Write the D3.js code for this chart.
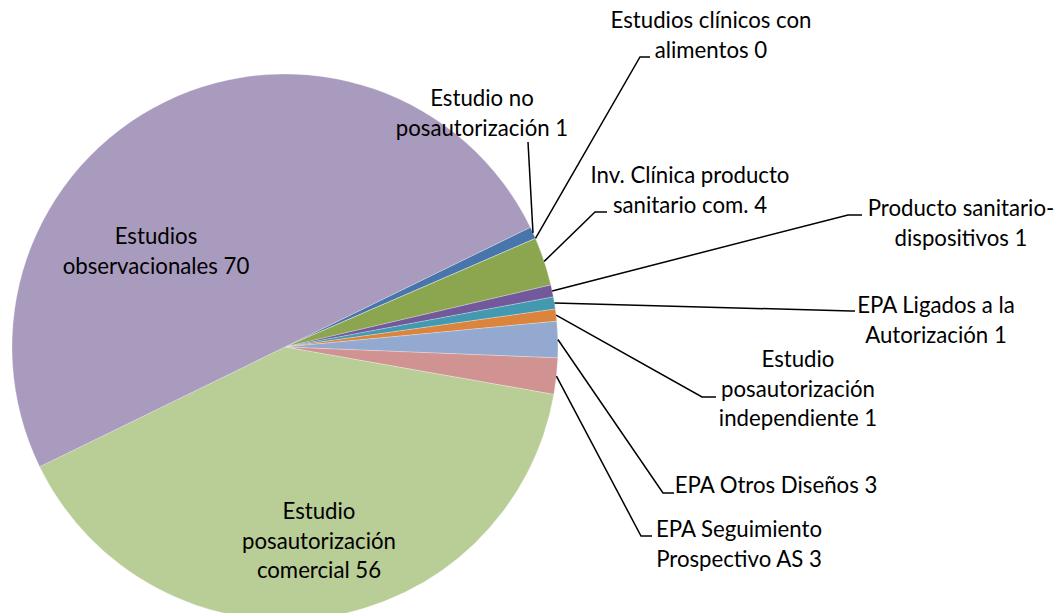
<!DOCTYPE html>
<html>
<head>
<meta charset="utf-8">
<script src="https://cdn.jsdelivr.net/npm/d3@7"></script>
<style>
  html, body { margin: 0; padding: 0; background: #fff; }
  svg { display: block; }
  text { font-family: Lato, "Noto Sans", sans-serif; fill: #000; }
</style>
</head>
<body>
<div id="chart"></div>
<script>
const width = 1060;
const height = 613;

// data, in the order the slices run clockwise
const categories = [
  "Estudio no posautorización",
  "Estudios clínicos con alimentos",
  "Inv. Clínica producto sanitario com.",
  "Producto sanitario-dispositivos",
  "EPA Ligados a la Autorización",
  "Estudio posautorización independiente",
  "EPA Otros Diseños",
  "EPA Seguimiento Prospectivo AS",
  "Estudio posautorización comercial",
  "Estudios observacionales"
];
const values = [1, 0, 4, 1, 1, 1, 3, 3, 56, 70];
const colors = ["#4775ac", "#c0504d", "#8ba64f", "#71599b", "#4299b0",
                "#db843d", "#93a9cf", "#d19392", "#b9cd96", "#a99bbd"];

// where each label wraps (value goes on the last line)
const wraps = [
  ["Estudio no", "posautorización"],
  ["Estudios clínicos con", "alimentos"],
  ["Inv. Clínica producto", "sanitario com."],
  ["Producto sanitario-", "dispositivos"],
  ["EPA Ligados a la", "Autorización"],
  ["Estudio", "posautorización", "independiente"],
  ["EPA Otros Diseños"],
  ["EPA Seguimiento", "Prospectivo AS"],
  ["Estudio", "posautorización", "comercial"],
  ["Estudios", "observacionales"]
];
// label centre x, first baseline y, leader bend points
const labelPos = [
  {x: 482, y: 106, lead: [[528, 142]]},
  {x: 711, y: 28,  lead: [[640, 57], [650, 57]]},
  {x: 690, y: 183, lead: [[595, 212], [607, 212]]},
  {x: 961, y: 216, lead: [[848, 215], [862, 215]]},
  {x: 936, y: 313, lead: [[851, 311], [855, 311]]},
  {x: 798, y: 367, lead: [[702, 397], [716, 397]]},
  {x: 776, y: 493, lead: [[663, 493], [674, 493]]},
  {x: 739, y: 537, lead: [[641, 536], [652, 536]]},
  {x: 319, y: 519, lead: null},
  {x: 156, y: 244, lead: null}
];

const cx = 285, cy = 347, radius = 273;
const startDeg = 64;
const lineH = 29.5;

const svg = d3.select("#chart").append("svg")
  .attr("width", width)
  .attr("height", height);

// pick a size so the font runs as wide as the original Calibri labels
const probe = svg.append("text").attr("font-size", 24).text("posautorización");
const fontSize = 24 * 154 / probe.node().getComputedTextLength();
probe.remove();

const pie = d3.pie()
  .sort(null)
  .value(d => d)
  .startAngle(startDeg * Math.PI / 180)
  .endAngle(startDeg * Math.PI / 180 + 2 * Math.PI);

const arcs = pie(values);
const arc = d3.arc().innerRadius(0).outerRadius(radius);

const g = svg.append("g").attr("transform", `translate(${cx},${cy})`);

g.selectAll("path.slice")
  .data(arcs)
  .enter()
  .append("path")
  .attr("class", "slice")
  .attr("d", arc)
  .attr("fill", (d, i) => colors[i])
  .attr("stroke", "rgba(255,255,255,0.35)")
  .attr("stroke-width", 0.75);

// leader lines from the slice edge to the label
const line = d3.line();
svg.selectAll("path.leader")
  .data(arcs.filter((d, i) => labelPos[i].lead))
  .enter()
  .append("path")
  .attr("class", "leader")
  .attr("fill", "none")
  .attr("stroke", "#000")
  .attr("stroke-width", 1.5)
  .attr("d", d => {
    const mid = (d.startAngle + d.endAngle) / 2;
    const p0 = [cx + radius * Math.sin(mid), cy - radius * Math.cos(mid)];
    return line([p0].concat(labelPos[d.index].lead));
  });

const labels = svg.selectAll("text.label")
  .data(categories)
  .enter()
  .append("text")
  .attr("class", "label")
  .attr("font-size", fontSize)
  .attr("text-anchor", "middle");

labels.each(function(name, i) {
  const parts = wraps[i].slice();
  parts[parts.length - 1] += " " + values[i];
  d3.select(this).selectAll("tspan")
    .data(parts)
    .enter()
    .append("tspan")
    .attr("x", labelPos[i].x)
    .attr("y", (t, k) => labelPos[i].y + k * lineH)
    .text(t => t);
});
</script>
</body>
</html>
